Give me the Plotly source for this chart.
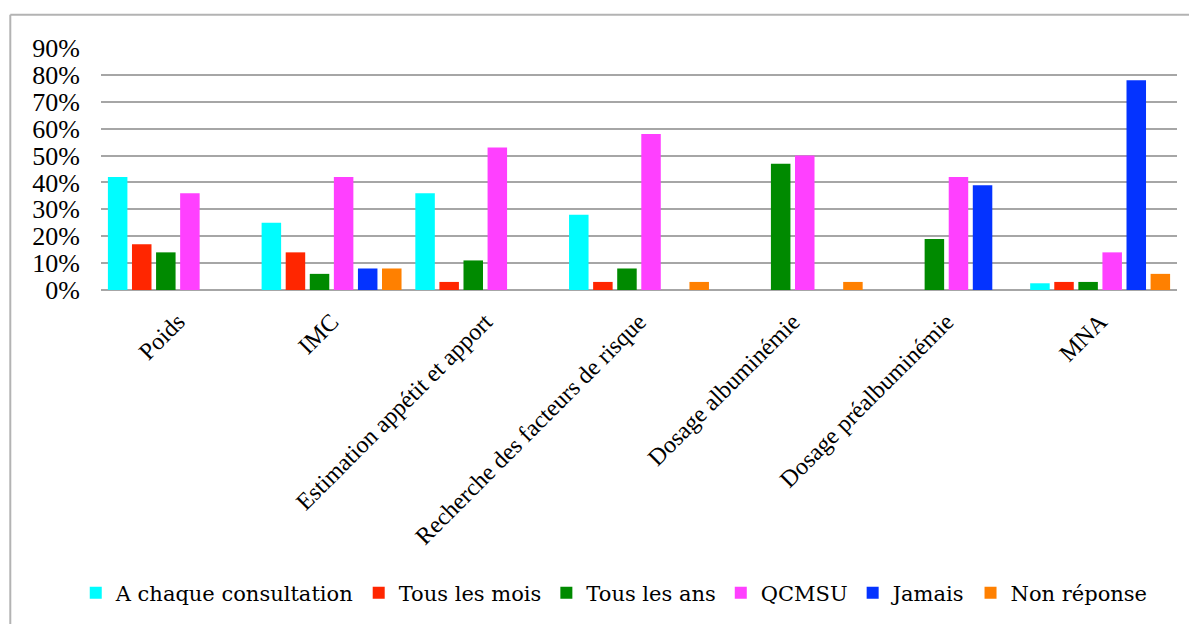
import plotly.graph_objects as go

# categories on the x axis
categories = [
    "Poids",
    "IMC",
    "Estimation appétit et apport",
    "Recherche des facteurs de risque",
    "Dosage albuminémie",
    "Dosage préalbuminémie",
    "MNA",
]

# percentages per answer (None = no bar)
a_chaque_consultation = [0.42, 0.25, 0.36, 0.28, None, None, 0.025]
tous_les_mois = [0.17, 0.14, 0.03, 0.03, None, None, 0.03]
tous_les_ans = [0.14, 0.06, 0.11, 0.08, 0.47, 0.19, 0.03]
qcmsu = [0.36, 0.42, 0.53, 0.58, 0.50, 0.42, 0.14]
jamais = [None, 0.08, None, None, None, 0.39, 0.78]
non_reponse = [None, 0.08, None, 0.03, 0.03, None, 0.06]

series_names = ["A chaque consultation", "Tous les mois", "Tous les ans",
                "QCMSU", "Jamais", "Non réponse"]
series_values = [a_chaque_consultation, tous_les_mois, tous_les_ans,
                 qcmsu, jamais, non_reponse]
colors = ["#00FDFF", "#FF2600", "#008A00", "#FF40FF", "#0433FF", "#FF8000"]

fig = go.Figure()
for name, vals, col in zip(series_names, series_values, colors):
    fig.add_trace(go.Bar(
        x=categories,
        y=vals,
        name=name,
        marker=dict(color=col, line=dict(width=0)),
    ))

grid = "#a6a6a6"
frame = dict(color="#b3b3b3", width=2)

# the page body adds an 8px margin all round: size the figure so nothing scrolls
fig.update_layout(
    width=1181,
    height=616,
    barmode="group",
    bargap=0.06,
    bargroupgap=0.19,
    plot_bgcolor="white",
    paper_bgcolor="white",
    margin=dict(l=93, r=12, t=40, b=333),
    font=dict(family="Liberation Serif", color="black"),
    xaxis=dict(
        tickangle=-45,
        tickfont=dict(family="Liberation Serif", size=24, color="black"),
        showgrid=False,
        showline=False,
        ticks="",
        ticklabelstandoff=12,
    ),
    yaxis=dict(
        range=[0, 0.9001],
        dtick=0.1,
        tickformat=".0%",
        tickfont=dict(family="Liberation Serif", size=26, color="black"),
        showgrid=True,
        gridcolor=grid,
        gridwidth=2,
        zeroline=True,
        zerolinecolor=grid,
        zerolinewidth=2,
        showline=False,
        ticks="",
        ticklabelstandoff=20,
    ),
    legend=dict(
        orientation="h",
        x=0.477,
        xanchor="center",
        y=-1.243,
        yanchor="middle",
        font=dict(family="DejaVu Serif", size=21, color="black"),
        itemwidth=30,
        tracegroupgap=0,
    ),
    shapes=[
        # outer frame of the chart: only left and top edges are in view
        dict(type="line", xref="paper", yref="paper",
             x0=-0.0843, x1=-0.0843, y0=-1.6, y1=1.137, line=frame, layer="below"),
        dict(type="line", xref="paper", yref="paper",
             x0=-0.0843, x1=1.2, y0=1.137, y1=1.137, line=frame, layer="below"),
    ],
)

fig.write_html("out.html")
